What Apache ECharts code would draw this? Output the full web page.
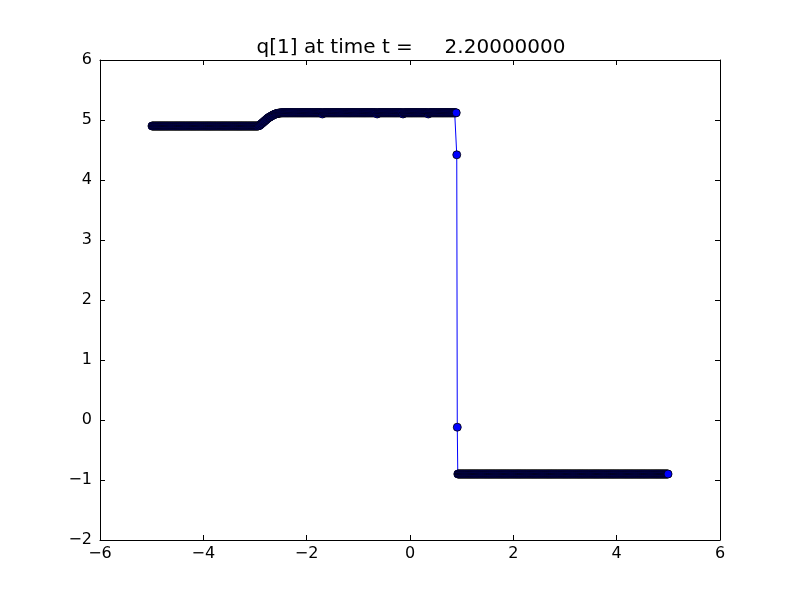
<!DOCTYPE html>
<html>
<head>
<meta charset="utf-8">
<script src="https://cdn.jsdelivr.net/npm/echarts@6/dist/echarts.min.js"></script>
<style>
html,body{margin:0;padding:0;background:#fff;}
#chart{width:800px;height:600px;}
</style>
</head>
<body>
<div id="chart"></div>
<script>
// Grid of cell centres (uniform spacing)
const xStart = -4.995;
const xStep = 0.01;
// Values, stored as runs (value repeated count times)
const leftState = [4.90];           const leftCounts = [206];
const rampValues = [4.902, 4.905, 4.909, 4.915, 4.922, 4.93, 4.937, 4.945, 4.952, 4.96,
                    4.967, 4.975, 4.982, 4.99, 4.997, 5.005, 5.012, 5.02, 5.027, 5.035,
                    5.04, 5.045, 5.05, 5.055, 5.06, 5.065, 5.07, 5.075, 5.08, 5.085,
                    5.089, 5.093, 5.097, 5.10, 5.103, 5.105, 5.108, 5.11, 5.112, 5.113,
                    5.115, 5.116, 5.117, 5.118, 5.119, 5.119, 5.12, 5.12];
const plateauValues = [5.12, 5.10, 5.12, 5.10, 5.12, 5.10, 5.12, 5.10, 5.12];
const plateauCounts = [76, 1, 105, 1, 49, 1, 48, 1, 54];
const shockValues = [4.42, -0.12];
const rightState = [-0.90];         const rightCounts = [408];

const xTicks = [-6, -4, -2, 0, 2, 4, 6];
const yTicks = [-2, -1, 0, 1, 2, 3, 4, 5, 6];
const titleText = 'q[1] at time t =     2.20000000';

function expand(vals, counts) {
  const out = [];
  vals.forEach((v, k) => { for (let j = 0; j < counts[k]; j++) out.push(v); });
  return out;
}
const yValues = [].concat(
  expand(leftState, leftCounts),
  rampValues,
  expand(plateauValues, plateauCounts),
  shockValues,
  expand(rightState, rightCounts)
);
const data = yValues.map((y, i) => [+(xStart + i * xStep).toFixed(4), y]);

const fmt = v => String(v).replace('-', '\u2212');
const font = 'DejaVu Sans';
const chart = echarts.init(document.getElementById('chart'), null, {renderer: 'canvas'});
const axisCommon = {
  type: 'value',
  axisLine: {show: true, onZero: false, lineStyle: {color: '#000', width: 1}},
  axisTick: {show: true, inside: true, length: 5, lineStyle: {color: '#000', width: 1}},
  splitLine: {show: false}
};
chart.setOption({
  animation: false,
  backgroundColor: '#fff',
  title: {
    text: titleText, left: 406, textAlign: 'center', top: 33,
    textStyle: {fontFamily: font, fontSize: 20, fontWeight: 'normal', color: '#000'}
  },
  grid: {left: 100, top: 60, width: 620, height: 480, containLabel: false},
  xAxis: [
    Object.assign({}, axisCommon, {
      position: 'bottom', min: xTicks[0], max: xTicks[xTicks.length - 1], interval: 2,
      axisLabel: {show: true, margin: 6, fontFamily: font, fontSize: 16, color: '#000', formatter: fmt}
    }),
    Object.assign({}, axisCommon, {
      position: 'top', min: xTicks[0], max: xTicks[xTicks.length - 1], interval: 2,
      axisLabel: {show: false}
    })
  ],
  yAxis: [
    Object.assign({}, axisCommon, {
      position: 'left', min: yTicks[0], max: yTicks[yTicks.length - 1], interval: 1,
      axisLabel: {show: true, margin: 8, fontFamily: font, fontSize: 16, color: '#000', formatter: fmt}
    }),
    Object.assign({}, axisCommon, {
      position: 'right', min: yTicks[0], max: yTicks[yTicks.length - 1], interval: 1,
      axisLabel: {show: false}
    })
  ],
  series: [{
    type: 'line',
    data: data,
    xAxisIndex: 0, yAxisIndex: 0,
    showSymbol: true, showAllSymbol: true,
    symbol: 'circle', symbolSize: 8,
    lineStyle: {color: '#0000ff', width: 1},
    itemStyle: {color: '#0000ff', borderColor: '#000', borderWidth: 0.8},
    emphasis: {disabled: true},
    z: 3
  }]
});
</script>
</body>
</html>
